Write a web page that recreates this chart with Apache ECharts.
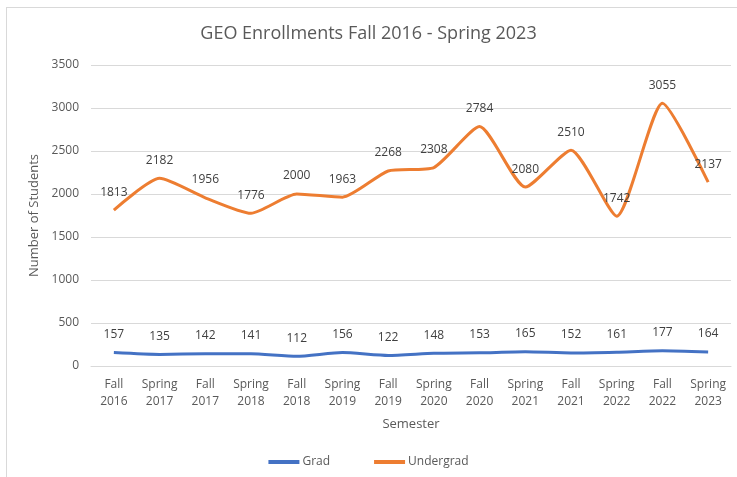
<!DOCTYPE html>
<html>
<head>
<meta charset="UTF-8">
<title>GEO Enrollments</title>
<script src="https://cdn.jsdelivr.net/npm/echarts@6/dist/echarts.min.js"></script>
<style>
	body{
		margin:0;
		background:#fff;
	}
	#frame{
		position:absolute;
		left:6px;
		top:7px;
		width:740px;
		height:480px;
		border:1px solid #d9d9d9;
	}
	#chart{
		position:absolute;
		left:0;
		top:0;
		width:737px;
		height:477px;
	}
</style>
</head>
<body>
	<div id="frame"></div>
	<div id="chart"></div>
<script>
	var semesters = ["Fall\n2016","Spring\n2017","Fall\n2017","Spring\n2018","Fall\n2018","Spring\n2019","Fall\n2019",
		"Spring\n2020","Fall\n2020","Spring\n2021","Fall\n2021","Spring\n2022","Fall\n2022","Spring\n2023"];
	var grad = [157,135,142,141,112,156,122,148,153,165,152,161,177,164];
	var undergrad = [1813,2182,1956,1776,2000,1963,2268,2308,2784,2080,2510,1742,3055,2137];

	var myChart = echarts.init(document.getElementById("chart"));
	var font = "'Open Sans', sans-serif";
	var option = {
		animation:false,
		title:{
			text:"GEO Enrollments Fall 2016 - Spring 2023",
			left:"center",
			top:20,
			textStyle:{fontFamily:font,fontSize:18,fontWeight:"normal",color:"#595959"}
		},
		legend:{
			bottom:4,
			left:"center",
			itemWidth:31,
			itemHeight:4,
			itemGap:44,
			icon:"rect",
			textStyle:{fontFamily:font,fontSize:12,color:"#595959",padding:[0,0,0,-2]},
			data:["Grad","Undergrad"]
		},
		grid:{left:91,right:6,top:65,bottom:111,containLabel:false},
		xAxis:{
			type:"category",
			data:semesters,
			name:"Semester",
			nameLocation:"middle",
			nameGap:52,
			nameTextStyle:{fontFamily:font,fontSize:13,color:"#595959"},
			axisLine:{lineStyle:{color:"#d9d9d9"}},
			axisTick:{show:false},
			axisLabel:{fontFamily:font,fontSize:12,color:"#595959",lineHeight:17,margin:10,interval:0}
		},
		yAxis:{
			type:"value",
			min:0,
			max:3500,
			interval:500,
			name:"Number of Students",
			nameLocation:"middle",
			nameGap:50,
			nameTextStyle:{fontFamily:font,fontSize:13,color:"#595959"},
			axisLine:{show:false},
			axisTick:{show:false},
			axisLabel:{fontFamily:font,fontSize:12,color:"#595959",margin:12,formatter:function(v){return String(v);}},
			splitLine:{lineStyle:{color:"#d9d9d9"}}
		},
		series:[{
			name:"Grad",
			type:"line",
			data:grad,
			smooth:0.2,
			symbol:"circle",
			symbolSize:0,
			lineStyle:{width:3,color:"#4472c4"},
			itemStyle:{color:"#4472c4"},
			label:{show:true,position:"top",distance:12,fontFamily:font,fontSize:12,color:"#404040"}
		},{
			name:"Undergrad",
			type:"line",
			data:undergrad,
			smooth:0.2,
			symbol:"circle",
			symbolSize:0,
			lineStyle:{width:3,color:"#ed7d31"},
			itemStyle:{color:"#ed7d31"},
			label:{show:true,position:"top",distance:12,fontFamily:font,fontSize:12,color:"#404040"}
		}]
	};
	myChart.setOption(option);
</script>
</body>
</html>
